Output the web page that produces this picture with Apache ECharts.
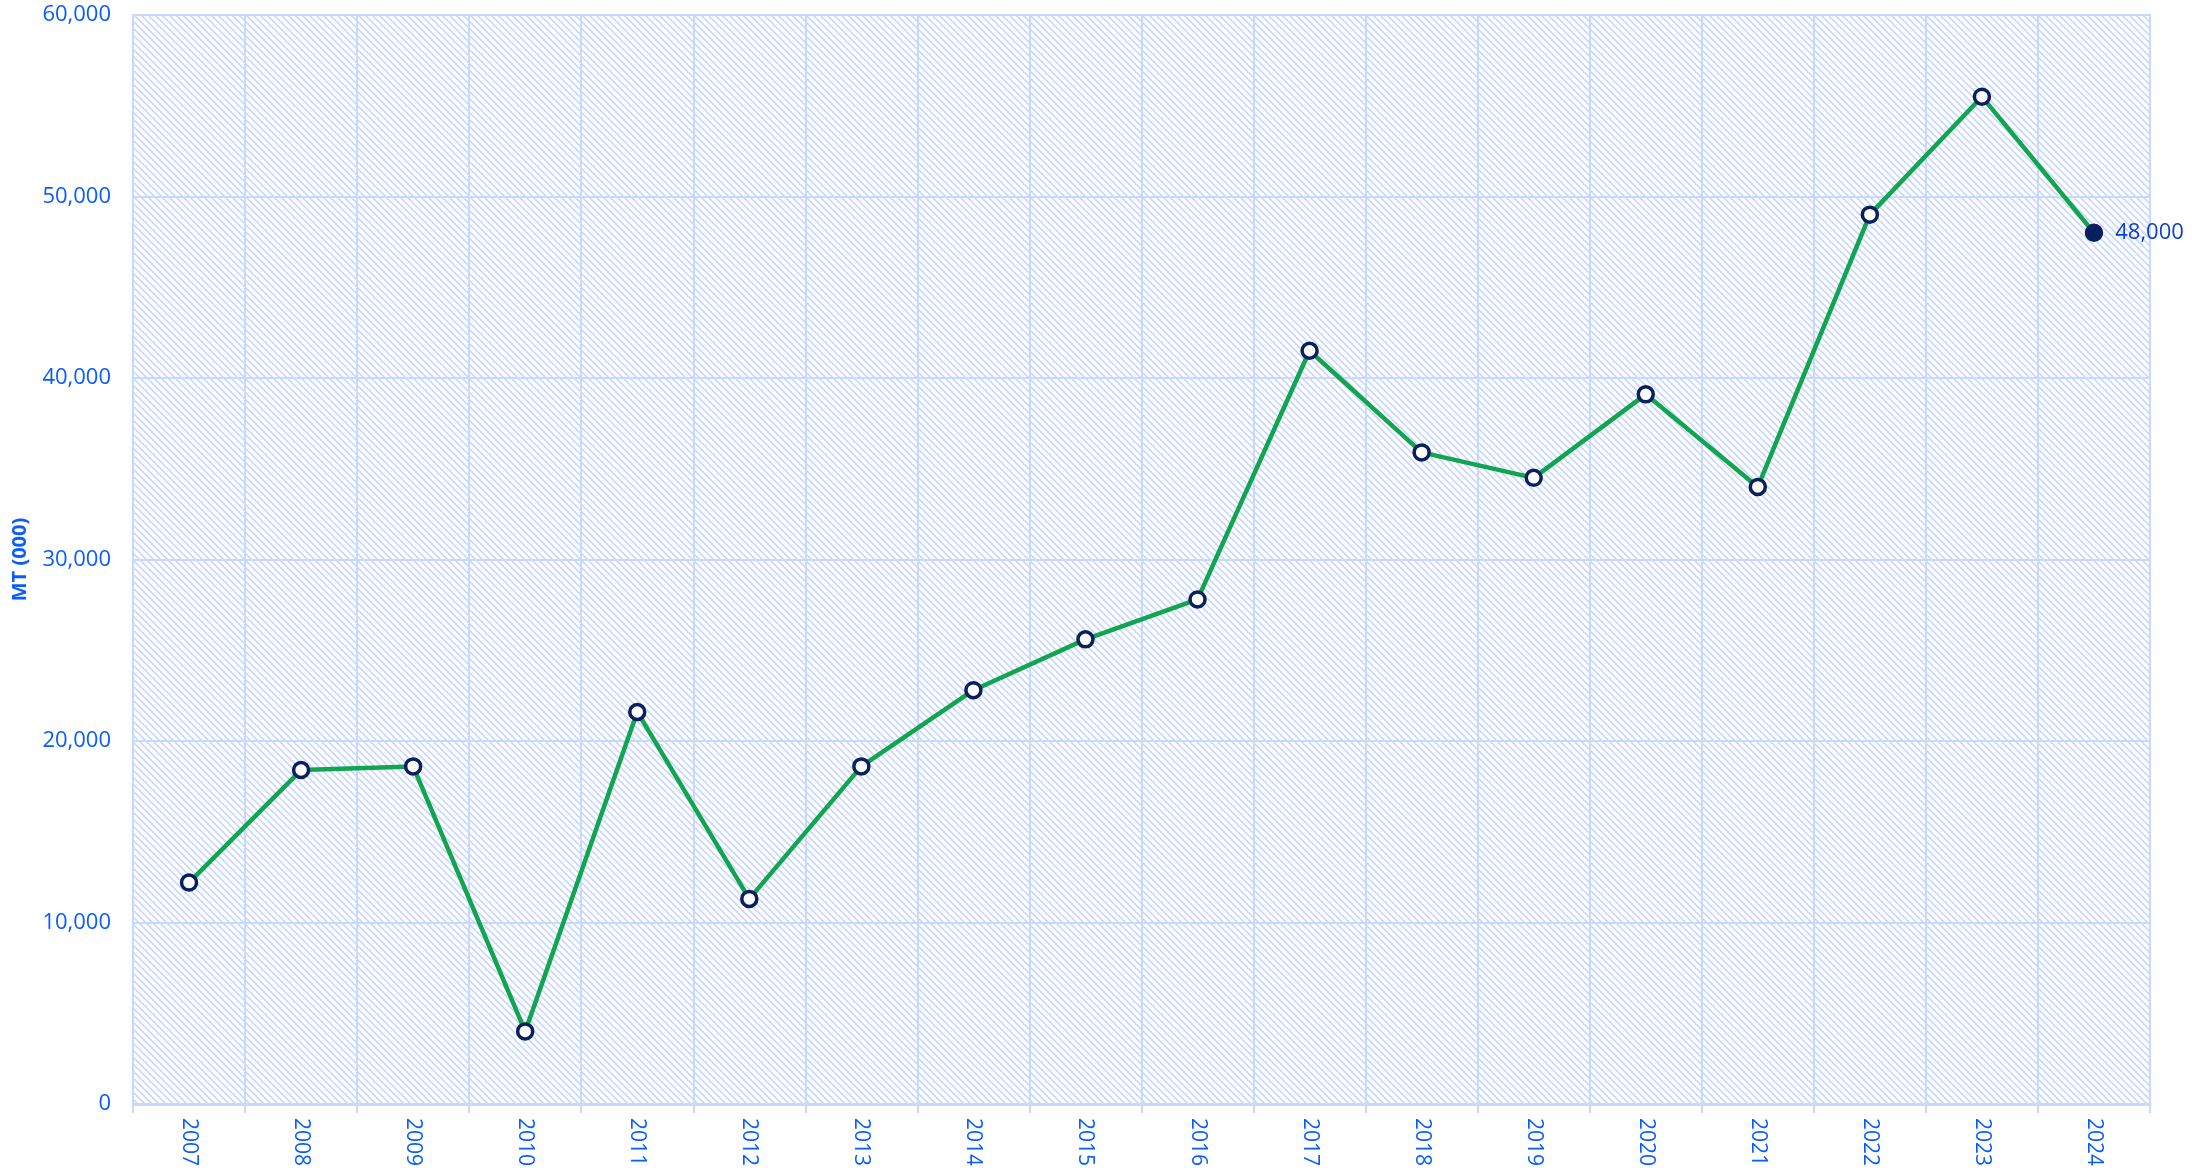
<!DOCTYPE html>
<html>
<head>
<meta charset="utf-8">
<script src="https://cdn.jsdelivr.net/npm/echarts@6/dist/echarts.min.js"></script>
<style>
  html, body { margin: 0; padding: 0; background: #fff; }
  #chart { width: 2192px; height: 1174px; }
</style>
</head>
<body>
<div id="chart"></div>
<script>
// data
const years = ['2007', '2008', '2009', '2010', '2011', '2012', '2013', '2014', '2015',
  '2016', '2017', '2018', '2019', '2020', '2021', '2022', '2023', '2024']
const volumes = [12200, 18400, 18600, 4000, 21600, 11300, 18600, 22800, 25600,
  27800, 41500, 35900, 34500, 39100, 34000, 49000, 55500, 48000]
const yTicks = [0, 10000, 20000, 30000, 40000, 50000, 60000]

const blue = '#0a5cff'
const gridBlue = '#c9d8ff'
const navy = '#0a1f5e'
const green = '#10a54e'

// hatch pattern for the plot background
function makeHatch() {
  const size = 7
  const c = document.createElement('canvas')
  c.width = size
  c.height = size
  const ctx = c.getContext('2d')
  ctx.strokeStyle = gridBlue
  ctx.lineWidth = 1.6
  ctx.beginPath()
  ctx.moveTo(-1, -1); ctx.lineTo(size + 1, size + 1)
  ctx.moveTo(-1, size - 1); ctx.lineTo(1, size + 1)
  ctx.moveTo(size - 1, -1); ctx.lineTo(size + 1, 1)
  ctx.stroke()
  return c
}

const chart = echarts.init(document.getElementById('chart'))

// the last point is drawn filled and labelled
const seriesData = volumes.map((v, i) => {
  if (i === volumes.length - 1) {
    return {
      value: v,
      itemStyle: { color: navy, borderColor: navy },
      label: {
        show: true,
        position: 'right',
        distance: 12,
        color: '#0b3fd0',
        fontSize: 22,
        fontFamily: 'Open Sans',
        formatter: p => p.value.toLocaleString('en-US')
      }
    }
  }
  return v
})

chart.setOption({
  animation: false,
  grid: {
    left: 133,
    right: 42,
    top: 15,
    bottom: 70,
    show: true,
    backgroundColor: { image: makeHatch(), repeat: 'repeat' },
    borderColor: gridBlue,
    borderWidth: 2
  },
  xAxis: {
    type: 'category',
    data: years,
    boundaryGap: true,
    axisLine: { lineStyle: { color: gridBlue, width: 3 } },
    axisTick: { show: true, length: 9, lineStyle: { color: gridBlue, width: 2 } },
    splitLine: { show: true, lineStyle: { color: gridBlue, width: 2 } },
    axisLabel: {
      rotate: -90,
      color: blue,
      fontSize: 21,
      fontFamily: 'Open Sans',
      margin: 14
    }
  },
  yAxis: {
    type: 'value',
    min: yTicks[0],
    max: yTicks[yTicks.length - 1],
    interval: 10000,
    name: 'MT (000)',
    nameLocation: 'middle',
    nameGap: 103,
    nameRotate: 90,
    nameTextStyle: { color: blue, fontSize: 20, fontWeight: 'bold', fontFamily: 'Open Sans' },
    axisLine: { show: false },
    axisTick: { show: false },
    splitLine: { show: true, lineStyle: { color: gridBlue, width: 2 } },
    axisLabel: {
      color: blue,
      fontSize: 22,
      fontFamily: 'Open Sans',
      margin: 22,
      formatter: v => v.toLocaleString('en-US')
    }
  },
  series: [{
    type: 'line',
    data: seriesData,
    symbol: 'circle',
    symbolSize: 15,
    lineStyle: { color: green, width: 4.5 },
    itemStyle: { color: '#fff', borderColor: navy, borderWidth: 3.5 },
    z: 3
  }]
})
</script>
</body>
</html>
